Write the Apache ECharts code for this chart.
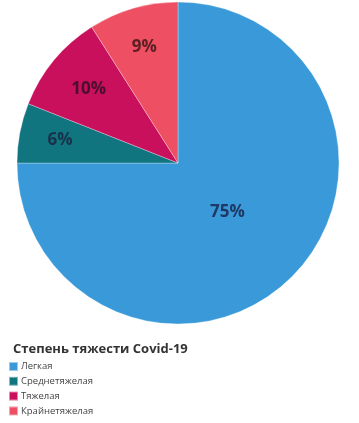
<!DOCTYPE html>
<html><head><meta charset="utf-8">
<script src="https://cdn.jsdelivr.net/npm/echarts@6/dist/echarts.min.js"></script>
<style>html,body{margin:0;padding:0;background:#fff}#c{width:359px;height:423px}</style>
</head><body><div id="c"></div>
<script>
var categories = ['Легкая', 'Среднетяжелая', 'Тяжелая', 'Крайнетяжелая'];
var values = [75, 6, 10, 9];
var legendTitle = 'Степень тяжести Covid-19';

var colors = ['#3A9AD9', '#10757F', '#C8105C', '#EE4F62'];
var labelColors = ['#1F3864', '#17324A', '#4A0F2E', '#5C1F22'];
var labelRadius = [70, 120, 116, 121];
var cx = 178, cy = 163, R = 161;

var chart = echarts.init(document.getElementById('c'), null, {renderer: 'canvas'});
var data = categories.map(function (n, i) {
  return {name: n, value: values[i], itemStyle: {color: colors[i]}, label: {color: labelColors[i]}};
});
chart.setOption({
  animation: false,
  title: {text: legendTitle, left: 8, top: 338, textStyle: {fontFamily: 'Open Sans', fontSize: 13, fontWeight: 'bold', color: '#333'}},
  legend: {
    orient: 'vertical', top: 361, height: 100, itemWidth: 9, itemHeight: 9, itemGap: 3.8,
    icon: 'rect', data: categories, padding: 0, left: 8,
    textStyle: {fontFamily: 'Open Sans', fontSize: 9.5, color: '#444', padding: [0, 0, 0, -2]}
  },
  series: [{
    type: 'pie', center: [cx, cy], radius: [0, R], startAngle: 90, clockwise: true,
    data: data,
    itemStyle: {borderColor: 'rgba(255,255,255,0.5)', borderWidth: 0.6},
    label: {position: 'inside', formatter: '{c}%', fontFamily: 'Open Sans', fontSize: 17, fontWeight: 'bold'},
    labelLine: {show: false},
    emphasis: {disabled: true},
    labelLayout: function (p) {
      var r = p.labelRect;
      var lx = r.x + r.width / 2, ly = r.y + r.height / 2;
      var dx = lx - cx, dy = ly - cy, d = Math.sqrt(dx * dx + dy * dy) || 1;
      var t = labelRadius[p.dataIndex] / d;
      return {dx: dx * t - dx, dy: dy * t - dy};
    }
  }]
});
</script></body></html>
